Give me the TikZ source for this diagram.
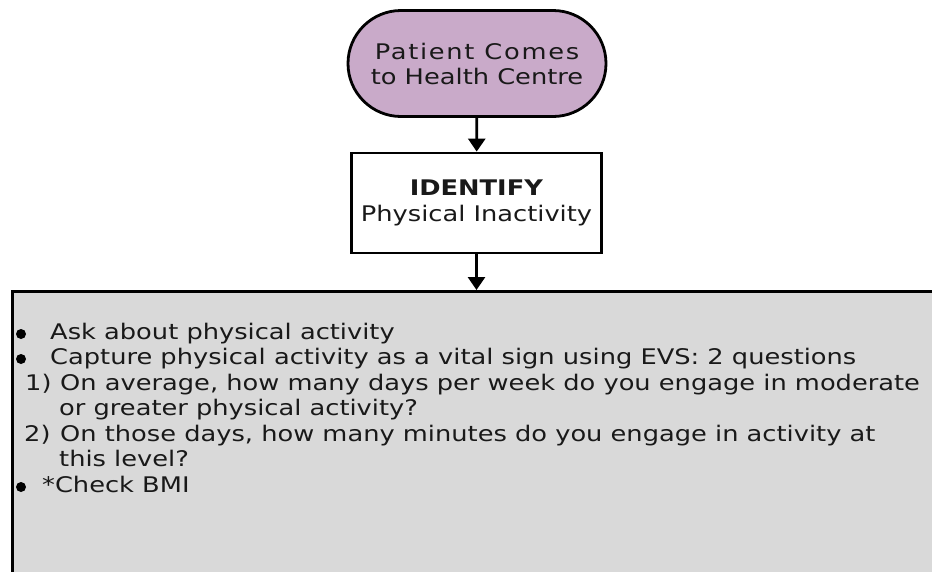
\documentclass[tikz,border=0pt]{standalone}
\usepackage{fontspec}
\setmainfont{DejaVu Sans}[FakeStretch=1.195]
\usetikzlibrary{arrows.meta,shapes.misc}
\definecolor{mauve}{RGB}{201,170,201}
\definecolor{panelgray}{RGB}{217,217,217}
\definecolor{ink}{RGB}{25,25,25}
\begin{document}
\begin{tikzpicture}[x=1pt,y=1pt,
  term/.style={rounded rectangle, draw, line width=2.8pt, fill=mauve, minimum width=258pt, minimum height=106pt, inner sep=0pt, align=center, font=\fontsize{21.5}{25}\selectfont, text=ink},
  procbox/.style={rectangle, draw, line width=2.8pt, fill=white, minimum width=250pt, minimum height=100pt, inner sep=0pt, align=center, font=\fontsize{21.5}{26}\selectfont, text=ink},
  panelbox/.style={rectangle, draw, line width=2.8pt, fill=panelgray, anchor=north west, inner sep=0pt},
  txt/.style={anchor=base west, inner sep=0pt, font=\fontsize{21.5}{25}\selectfont, text=ink},
  bul/.style={circle, fill=black, inner sep=0pt, minimum size=10pt},
  arr/.style={line width=2.8pt, -{Triangle[length=13pt,width=17pt]}}]
\useasboundingbox (0,0) rectangle (932,-571);
\clip (0,0) rectangle (932,-571);
\node[term] (start) at (477,-63.5) {{\addfontfeature{LetterSpace=8}Patient Comes}\\to Health Centre};
\node[procbox] (identify) at (476.5,-203) {\textbf{IDENTIFY}\\Physical Inactivity};
\node[panelbox, minimum width=940pt, minimum height=300pt] (panel) at (11,-290) {};
\draw[arr] (start) -- (identify);
\draw[arr] (identify) -- (identify |- panel.north);
\node[bul] (b1) at (21,-334) {};
\node[bul] (b2) at (21,-359) {};
\node[bul] (b3) at (21,-487) {};
\node[txt] (t1) at (50,-339) {Ask about physical activity};
\node[txt] (t2) at (50,-364) {Capture physical activity as a vital sign using EVS: 2 questions};
\node[txt] (t3a) at (25,-390) {1)};
\node[txt] (t3) at (60,-390) {On average, how many days per week do you engage in moderate};
\node[txt] (t4) at (59,-415) {or greater physical activity?};
\node[txt] (t5a) at (24,-441) {2)};
\node[txt] (t5) at (60,-441) {On those days, how many minutes do you engage in activity at};
\node[txt] (t6) at (59,-466) {this level?};
\node[txt] (t7) at (42,-492) {*Check BMI};
\end{tikzpicture}
\end{document}
